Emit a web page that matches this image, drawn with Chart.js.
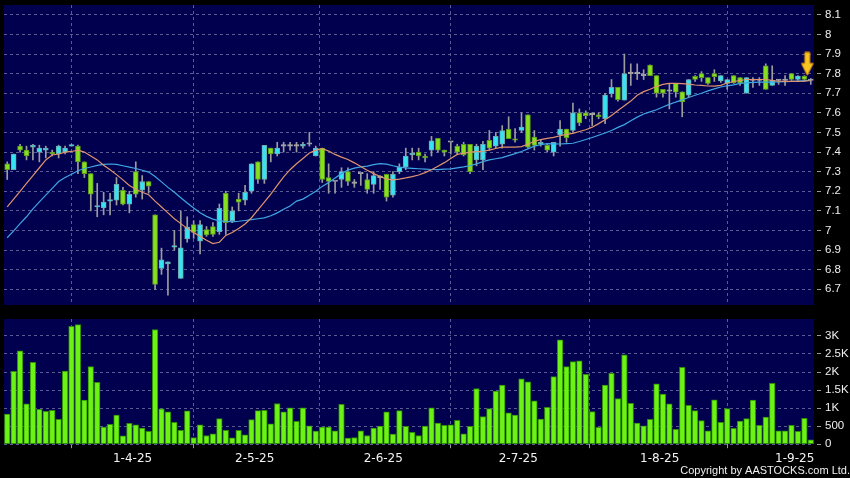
<!DOCTYPE html>
<html>
<head>
<meta charset="utf-8">
<script src="https://cdn.jsdelivr.net/npm/chart.js@4.4.1/dist/chart.umd.min.js"></script>
<style>
  html, body { margin: 0; padding: 0; background: #000; }
  #wrap { position: relative; width: 850px; height: 478px; overflow: hidden; }
  #priceBox { position: absolute; left: 0; top: 0; width: 850px; height: 310px; }
  #volBox { position: absolute; left: 0; top: 310px; width: 850px; height: 168px; }
</style>
</head>
<body>
<div id="wrap">
  <div id="priceBox"><canvas id="priceChart"></canvas></div>
  <div id="volBox"><canvas id="volChart"></canvas></div>
</div>
<script>
// daily bars, oldest first
const open = [
  7.34, 7.31, 7.43, 7.41, 7.425, 7.40, 7.41, 7.40, 7.39, 7.40,
  7.43, 7.43, 7.35, 7.29, 7.12, 7.115, 7.15, 7.155, 7.205, 7.134,
  7.30, 7.205, 7.25, 7.08, 6.807, 6.83, 6.915, 6.756, 6.957, 7.03,
  6.946, 7.005, 7.02, 6.994, 7.19, 7.05, 7.16, 7.154, 7.20, 7.35,
  7.26, 7.42, 7.39, 7.43, 7.43, 7.43, 7.43, 7.44, 7.38, 7.42,
  7.27, 7.25, 7.26, 7.30, 7.24, 7.29, 7.26, 7.235, 7.27, 7.287,
  7.18, 7.30, 7.324, 7.385, 7.40, 7.38, 7.41, 7.47, 7.41, 7.45,
  7.43, 7.44, 7.44, 7.36, 7.36, 7.46, 7.43, 7.44, 7.517, 7.468,
  7.51, 7.59, 7.476, 7.44, 7.434, 7.40, 7.487, 7.517, 7.51, 7.60,
  7.60, 7.59, 7.59, 7.57, 7.698, 7.73, 7.665, 7.80, 7.80, 7.79,
  7.844, 7.79, 7.72, 7.71, 7.75, 7.707, 7.69, 7.786, 7.80, 7.78,
  7.80, 7.763, 7.75, 7.79, 7.78, 7.70, 7.765, 7.765, 7.84, 7.74,
  7.765, 7.765, 7.80, 7.77, 7.787, 7.765
];
const high = [
  7.35, 7.39, 7.44, 7.43, 7.44, 7.435, 7.43, 7.41, 7.435, 7.43,
  7.44, 7.435, 7.35, 7.29, 7.24, 7.195, 7.19, 7.27, 7.22, 7.20,
  7.35, 7.28, 7.25, 7.08, 6.91, 6.84, 7.00, 7.10, 7.07, 7.05,
  7.05, 7.02, 7.04, 7.135, 7.20, 7.12, 7.19, 7.23, 7.34, 7.35,
  7.434, 7.42, 7.45, 7.45, 7.45, 7.45, 7.45, 7.50, 7.43, 7.42,
  7.34, 7.25, 7.32, 7.32, 7.26, 7.29, 7.29, 7.30, 7.28, 7.287,
  7.30, 7.34, 7.42, 7.42, 7.42, 7.39, 7.48, 7.47, 7.41, 7.45,
  7.44, 7.45, 7.44, 7.44, 7.455, 7.51, 7.50, 7.535, 7.58, 7.52,
  7.60, 7.59, 7.51, 7.46, 7.44, 7.45, 7.56, 7.517, 7.65, 7.62,
  7.61, 7.60, 7.60, 7.70, 7.77, 7.73, 7.90, 7.85, 7.85, 7.82,
  7.845, 7.79, 7.72, 7.75, 7.75, 7.707, 7.77, 7.79, 7.81, 7.78,
  7.82, 7.79, 7.77, 7.79, 7.78, 7.78, 7.78, 7.78, 7.85, 7.84,
  7.77, 7.79, 7.80, 7.79, 7.79, 7.775
];
const low = [
  7.26, 7.31, 7.40, 7.36, 7.36, 7.35, 7.37, 7.38, 7.37, 7.39,
  7.43, 7.29, 7.27, 7.10, 7.07, 7.08, 7.08, 7.13, 7.13, 7.09,
  7.17, 7.16, 7.19, 6.70, 6.776, 6.67, 6.90, 6.756, 6.94, 6.96,
  6.88, 6.97, 6.97, 6.98, 6.98, 7.04, 7.10, 7.13, 7.19, 7.24,
  7.24, 7.35, 7.38, 7.40, 7.41, 7.40, 7.42, 7.43, 7.38, 7.245,
  7.19, 7.19, 7.22, 7.23, 7.22, 7.23, 7.19, 7.19, 7.21, 7.15,
  7.17, 7.29, 7.31, 7.36, 7.36, 7.35, 7.38, 7.40, 7.38, 7.39,
  7.39, 7.38, 7.29, 7.33, 7.31, 7.41, 7.42, 7.42, 7.468, 7.45,
  7.50, 7.42, 7.41, 7.43, 7.40, 7.38, 7.43, 7.45, 7.50, 7.535,
  7.57, 7.535, 7.57, 7.545, 7.68, 7.66, 7.665, 7.74, 7.77, 7.77,
  7.79, 7.68, 7.68, 7.62, 7.68, 7.58, 7.68, 7.76, 7.76, 7.745,
  7.76, 7.755, 7.72, 7.75, 7.74, 7.70, 7.73, 7.74, 7.72, 7.74,
  7.745, 7.74, 7.765, 7.765, 7.76, 7.745
];
const close = [
  7.31, 7.39, 7.41, 7.38, 7.435, 7.42, 7.42, 7.39, 7.43, 7.42,
  7.435, 7.35, 7.29, 7.185, 7.125, 7.145, 7.155, 7.236, 7.134, 7.185,
  7.185, 7.25, 7.226, 6.725, 6.851, 6.84, 6.92, 6.912, 7.018, 6.99,
  7.03, 6.977, 6.98, 7.113, 7.04, 7.10, 7.144, 7.195, 7.34, 7.26,
  7.434, 7.39, 7.42, 7.432, 7.432, 7.432, 7.44, 7.442, 7.42, 7.26,
  7.25, 7.252, 7.30, 7.25, 7.242, 7.292, 7.21, 7.28, 7.272, 7.17,
  7.287, 7.324, 7.38, 7.395, 7.38, 7.37, 7.457, 7.41, 7.40, 7.452,
  7.40, 7.385, 7.30, 7.43, 7.44, 7.42, 7.48, 7.51, 7.468, 7.46,
  7.527, 7.425, 7.434, 7.45, 7.41, 7.45, 7.517, 7.473, 7.60, 7.548,
  7.585, 7.592, 7.58, 7.69, 7.73, 7.667, 7.80, 7.802, 7.802, 7.792,
  7.79, 7.70, 7.70, 7.712, 7.705, 7.656, 7.77, 7.77, 7.78, 7.75,
  7.784, 7.79, 7.77, 7.753, 7.753, 7.78, 7.767, 7.767, 7.72, 7.766,
  7.767, 7.767, 7.77, 7.787, 7.77, 7.767
];
// short and long moving averages as drawn
const maFast = [
  7.12, 7.16, 7.20, 7.24, 7.28, 7.32, 7.36, 7.385, 7.39, 7.40,
  7.403, 7.41, 7.40, 7.38, 7.36, 7.333, 7.31, 7.285, 7.258, 7.23,
  7.21, 7.195, 7.182, 7.15, 7.12, 7.09, 7.06, 7.035, 7.01, 6.99,
  6.97, 6.95, 6.933, 6.94, 6.975, 6.99, 7.01, 7.033, 7.065, 7.105,
  7.145, 7.186, 7.23, 7.273, 7.31, 7.34, 7.367, 7.395, 7.41, 7.418,
  7.405, 7.388, 7.374, 7.362, 7.345, 7.326, 7.307, 7.29, 7.275, 7.262,
  7.258, 7.262, 7.268, 7.275, 7.283, 7.295, 7.31, 7.328, 7.346, 7.367,
  7.388, 7.394, 7.40, 7.402, 7.404, 7.41, 7.418, 7.425, 7.425, 7.425,
  7.428, 7.44, 7.455, 7.463, 7.47, 7.475, 7.483, 7.49, 7.495, 7.505,
  7.514, 7.527, 7.545, 7.565, 7.587, 7.612, 7.636, 7.66, 7.69, 7.708,
  7.72, 7.734, 7.745, 7.75, 7.75, 7.749, 7.746, 7.742, 7.74, 7.737,
  7.736, 7.74, 7.752, 7.76, 7.765, 7.77, 7.77, 7.77, 7.77, 7.766,
  7.761, 7.76, 7.76, 7.76, 7.762, 7.765
];
const maSlow = [
  6.963, 6.998, 7.035, 7.07, 7.11, 7.146, 7.18, 7.215, 7.25, 7.27,
  7.287, 7.305, 7.316, 7.324, 7.332, 7.337, 7.339, 7.337, 7.33, 7.323,
  7.316, 7.307, 7.298, 7.275, 7.248, 7.22, 7.195, 7.167, 7.14, 7.115,
  7.09, 7.072, 7.058, 7.049, 7.047, 7.044, 7.047, 7.051, 7.055, 7.06,
  7.064, 7.075, 7.09, 7.108, 7.125, 7.15, 7.16, 7.18, 7.20, 7.225,
  7.245, 7.268, 7.29, 7.308, 7.318, 7.324, 7.328, 7.336, 7.341, 7.338,
  7.33, 7.323, 7.319, 7.317, 7.315, 7.313, 7.311, 7.31, 7.313, 7.314,
  7.319, 7.324, 7.33, 7.34, 7.351, 7.36, 7.366, 7.372, 7.382, 7.392,
  7.403, 7.416, 7.43, 7.438, 7.443, 7.442, 7.441, 7.443, 7.445, 7.454,
  7.464, 7.474, 7.486, 7.497, 7.51, 7.526, 7.54, 7.56, 7.578, 7.594,
  7.605, 7.616, 7.63, 7.643, 7.655, 7.666, 7.678, 7.69, 7.70, 7.712,
  7.722, 7.732, 7.738, 7.743, 7.75, 7.753, 7.755, 7.757, 7.757, 7.757,
  7.758, 7.759, 7.76, 7.762, 7.764, 7.766
];
const volume = [
  838, 2020, 2588, 1117, 2272, 968, 912, 940, 689, 2030,
  3268, 3314, 1220, 2150, 1713, 475, 549, 810, 233, 577,
  540, 447, 354, 3175, 978, 894, 605, 382, 922, 186,
  540, 242, 289, 708, 382, 177, 382, 261, 680, 931,
  940, 568, 1127, 894, 1005, 633, 1005, 512, 363, 475,
  475, 372, 1108, 168, 186, 372, 242, 447, 503, 894,
  279, 931, 493, 326, 242, 503, 1005, 587, 521, 540,
  661, 289, 493, 1545, 763, 987, 1471, 1638, 866, 810,
  1815, 1731, 1200, 698, 1024, 1871, 2895, 2150, 2290, 2309,
  1936, 903, 465, 1638, 1964, 1266, 2476, 1136, 587, 512,
  689, 1676, 1387, 1117, 410, 2132, 1080, 931, 652, 372,
  1229, 605, 987, 438, 642, 708, 1220, 521, 754, 1685,
  372, 372, 521, 354, 717, 121
];
const tickLabels = ['1-4-25', '2-5-25', '2-6-25', '2-7-25', '1-8-25', '1-9-25'];
const monthStart = [20, 39, 59, 80, 102, 123];   // first bar of each labelled month
const priceTicks = [6.7, 6.8, 6.9, 7, 7.1, 7.2, 7.3, 7.4, 7.5, 7.6, 7.7, 7.8, 7.9, 8, 8.1];
const volumeTicks = [0, 500, 1000, 1500, 2000, 2500, 3000];
const arrowPrice = 7.85;                          // marker over the latest bar

const n = close.length;
const GRID = '#5b5b93';
const AXIS_FONT = '"Liberation Sans", Arial, sans-serif';

const areaFill = {
  id: 'areaFill',
  beforeDraw(chart) {
    const { ctx, chartArea: a } = chart;
    ctx.save();
    ctx.fillStyle = '#00004f';
    ctx.fillRect(a.left, a.top, a.right - a.left, a.bottom - a.top);
    ctx.restore();
  }
};

function candleFill(i) {
  const d = close[i] - open[i];
  if (Math.abs(d) < 0.004) return '#a8a8a8';
  return d > 0 ? '#35e4f0' : '#86e020';
}
function candleEdge(i) {
  const d = close[i] - open[i];
  if (Math.abs(d) < 0.004) return '#a8a8a8';
  return d > 0 ? '#6fa8b0' : '#5c9a1c';
}

// arrow sits a little left of the bar centre, like the original marker
function arrowImage() {
  const c = document.createElement('canvas');
  c.width = 20; c.height = 25;
  const g = c.getContext('2d');
  g.beginPath();
  g.moveTo(4, 1); g.lineTo(9, 1); g.lineTo(9, 12); g.lineTo(12.5, 12);
  g.lineTo(6.5, 24); g.lineTo(0.5, 12); g.lineTo(4, 12); g.closePath();
  g.fillStyle = '#f7c623'; g.fill();
  g.strokeStyle = '#d98c00'; g.lineWidth = 1; g.stroke();
  return c;
}

// labels sit inside the axis span, so no edge padding is needed
function noEdgePadding(s) {
  s.paddingTop = 0; s.paddingBottom = 0; s.paddingLeft = 0; s.paddingRight = 0;
}

function xAxis(withLabels) {
  return {
    type: 'linear', min: -0.5, max: n - 0.5, offset: false,
    afterBuildTicks: s => { s.ticks = monthStart.map(i => ({ value: i - 0.5 })); },
    afterFit: s => { s.height = withLabels ? 19.6 : 0; noEdgePadding(s); },
    ticks: {
      display: withLabels, autoSkip: false, maxRotation: 0, padding: 3,
      color: '#f2f2f2', font: { family: 'DejaVu Sans', size: 12 },
      callback: (v, i) => tickLabels[i]
    },
    grid: { color: GRID, drawTicks: withLabels, tickLength: 4, tickColor: '#9a9a9a', tickBorderDash: [] },
    border: { display: false, dash: [3, 3] }
  };
}

function yAxis(min, max, values, fmt) {
  return {
    position: 'right', min, max,
    afterBuildTicks: s => { s.ticks = values.map(v => ({ value: v })); },
    afterFit: s => { s.width = 36; noEdgePadding(s); },
    ticks: {
      padding: 4, color: '#eeeeee', font: { family: AXIS_FONT, size: 11.5 },
      callback: (v, i) => fmt(values[i])
    },
    grid: { color: GRID, tickLength: 7, tickColor: '#9a9a9a', tickBorderDash: [0, 3, 4, 20] },
    border: { display: false, dash: [3, 3] }
  };
}

new Chart(document.getElementById('priceChart'), {
  type: 'bar',
  data: {
    datasets: [
      {
        type: 'scatter', data: [{ x: n - 1, y: arrowPrice }],
        pointStyle: arrowImage(), pointRadius: 10, clip: false
      },
      {
        type: 'line', data: maFast.map((v, i) => ({ x: i, y: v })),
        borderColor: '#e0946c', borderWidth: 1.2, pointRadius: 0, tension: 0
      },
      {
        type: 'line', data: maSlow.map((v, i) => ({ x: i, y: v })),
        borderColor: '#3fa6e4', borderWidth: 1.2, pointRadius: 0, tension: 0
      },
      {
        data: open.map((o, i) => ({ x: i, y: [o, close[i]] })),
        grouped: false, barThickness: 5, minBarLength: 1.5, borderSkipped: false,
        backgroundColor: c => candleFill(c.dataIndex),
        borderColor: c => candleEdge(c.dataIndex), borderWidth: 1
      },
      {
        data: low.map((l, i) => ({ x: i, y: [l, high[i]] })),
        grouped: false, barThickness: 1, backgroundColor: '#9c9c9c', borderWidth: 0
      }
    ]
  },
  options: {
    responsive: true, maintainAspectRatio: false, animation: false,
    layout: { autoPadding: false, padding: { left: 4, top: 5, bottom: 5, right: 0 } },
    plugins: { legend: { display: false }, tooltip: { enabled: false } },
    scales: {
      x: xAxis(false),
      y: yAxis(6.62, 8.15, priceTicks, v => String(v))
    }
  },
  plugins: [areaFill]
});

new Chart(document.getElementById('volChart'), {
  type: 'bar',
  data: {
    datasets: [{
      data: volume.map((v, i) => ({ x: i, y: v })),
      barThickness: 5.6, backgroundColor: '#6cf214', borderColor: '#2f8c06', borderWidth: 1,
      borderSkipped: false
    }]
  },
  options: {
    responsive: true, maintainAspectRatio: false, animation: false,
    layout: { autoPadding: false, padding: { left: 4, top: 9, bottom: 0, right: 0 } },
    plugins: {
      legend: { display: false }, tooltip: { enabled: false },
      title: {
        display: true, text: 'Copyright by AASTOCKS.com Ltd.', position: 'bottom', align: 'end',
        color: '#f0f0f0', font: { family: AXIS_FONT, size: 11, weight: 'normal' },
        padding: { top: 1, bottom: 0 }
      }
    },
    scales: {
      x: xAxis(true),
      y: yAxis(0, 3470, volumeTicks, v => v >= 1000 ? (v / 1000) + 'K' : String(v))
    }
  },
  plugins: [areaFill]
});
</script>
</body>
</html>
